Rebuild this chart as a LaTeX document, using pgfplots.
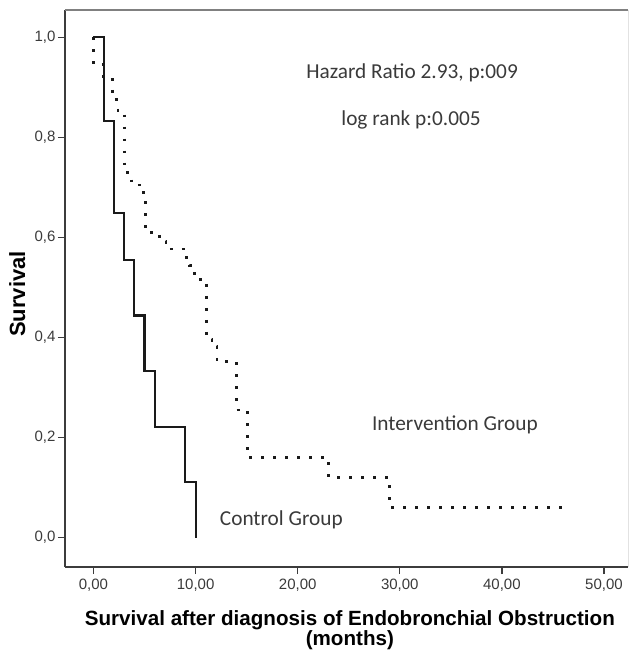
\documentclass[border=0pt]{standalone}
\usepackage{pgfplots}
\pgfplotsset{compat=1.18}
\usepackage{fontspec}
\setmainfont{Liberation Sans}
\newfontfamily\calib{Carlito}
\definecolor{curve}{HTML}{1A1A1A}
\definecolor{ticklab}{HTML}{3A3A3A}
\definecolor{frameL}{HTML}{3C3C3C}
\definecolor{frameT}{HTML}{808080}
\definecolor{frameR}{HTML}{E2E2E2}
\begin{document}
\begin{tikzpicture}
\useasboundingbox (0,0) rectangle (630pt,651pt);
\begin{axis}[
  at={(65pt,84pt)}, anchor=south west,
  scale only axis, width=563pt, height=557pt,
  xmin=-2.79, xmax=52.35, ymin=-0.0586, ymax=1.0546,
  axis x line*=bottom, axis y line*=left,
  axis line style={frameL, line width=1.4pt, -},
  xtick={0,10,20,30,40,50},
  xticklabels={{0,00},{10,00},{20,00},{30,00},{40,00},{50,00}},
  ytick={0,0.2,0.4,0.6,0.8,1.0},
  yticklabels={{0,0},{0,2},{0,4},{0,6},{0,8},{1,0}},
  tick align=outside,
  major tick length=7pt,
  tick style={frameL, line width=1.2pt},
  ticklabel style={font=\fontsize{15}{17}\selectfont, text=ticklab},
  xticklabel style={yshift=-1pt},
  yticklabel style={xshift=1pt},
  xlabel={Survival after diagnosis of Endobronchial Obstruction\\(months)},
  xlabel style={at={(axis description cs:0.506,-0.114)}, anchor=center, align=center,
    font=\fontsize{20.6}{20}\selectfont\bfseries, text=black},
  ylabel={Survival},
  ylabel style={at={(axis description cs:-0.085,0.49)}, anchor=center, rotate=0,
    font=\fontsize{22}{22}\selectfont\bfseries, text=black},
  clip=false,
]
\draw[frameT, line width=1.6pt] (rel axis cs:0,1) -- (rel axis cs:1,1);
\draw[frameR, line width=1pt] (rel axis cs:1,0) -- (rel axis cs:1,1);
% Control group
\addplot[curve, line width=2.1pt, line join=miter] coordinates {
(0,1.0) (1.0,1.0) (1.0,0.833) (2.0,0.833) (2.0,0.648) (3.0,0.648) (3.0,0.555)
(4.0,0.555) (4.0,0.444) (5.0,0.444) (5.0,0.333) (6.0,0.333) (6.0,0.222)
(9.0,0.222) (9.0,0.111) (10.0,0.111) (10.0,0.0)
};
% Intervention group
\addplot[curve, line width=2.8pt, line cap=butt, dash pattern=on 2.8pt off 9.2pt] coordinates {
(0,1.0) (0,0.945) (1.0,0.945) (1.0,0.915) (1.9,0.915) (1.9,0.875) (2.4,0.875)
(2.4,0.85) (3.0,0.85) (3.0,0.73) (3.7,0.73) (3.7,0.705) (4.9,0.705) (4.9,0.68)
(5.1,0.68) (5.1,0.61) (6.5,0.61) (6.5,0.593) (7.1,0.593) (7.1,0.577) (8.8,0.577)
(8.8,0.56) (9.4,0.56) (9.4,0.544) (9.9,0.544) (9.9,0.528) (10.5,0.528) (10.5,0.512)
(11.1,0.512) (11.1,0.397) (11.6,0.397) (11.6,0.383) (12.1,0.383) (12.1,0.352)
(14.0,0.352) (14.0,0.255) (15.1,0.255) (15.1,0.16) (23.0,0.16) (23.0,0.12)
(29.0,0.12) (29.0,0.06) (46.4,0.06)
};
\node[font=\calib\fontsize{21.3}{24}\selectfont, text=ticklab] at (axis cs:31.2,0.929) {Hazard Ratio 2.93, p:009};
\node[font=\calib\fontsize{21.3}{24}\selectfont, text=ticklab] at (axis cs:31.1,0.835) {log rank p:0.005};
\node[font=\calib\fontsize{21.3}{24}\selectfont, text=ticklab] at (axis cs:35.4,0.225) {Intervention Group};
\node[font=\calib\fontsize{21.3}{24}\selectfont, text=ticklab] at (axis cs:18.4,0.035) {Control Group};
\end{axis}
\end{tikzpicture}
\end{document}
